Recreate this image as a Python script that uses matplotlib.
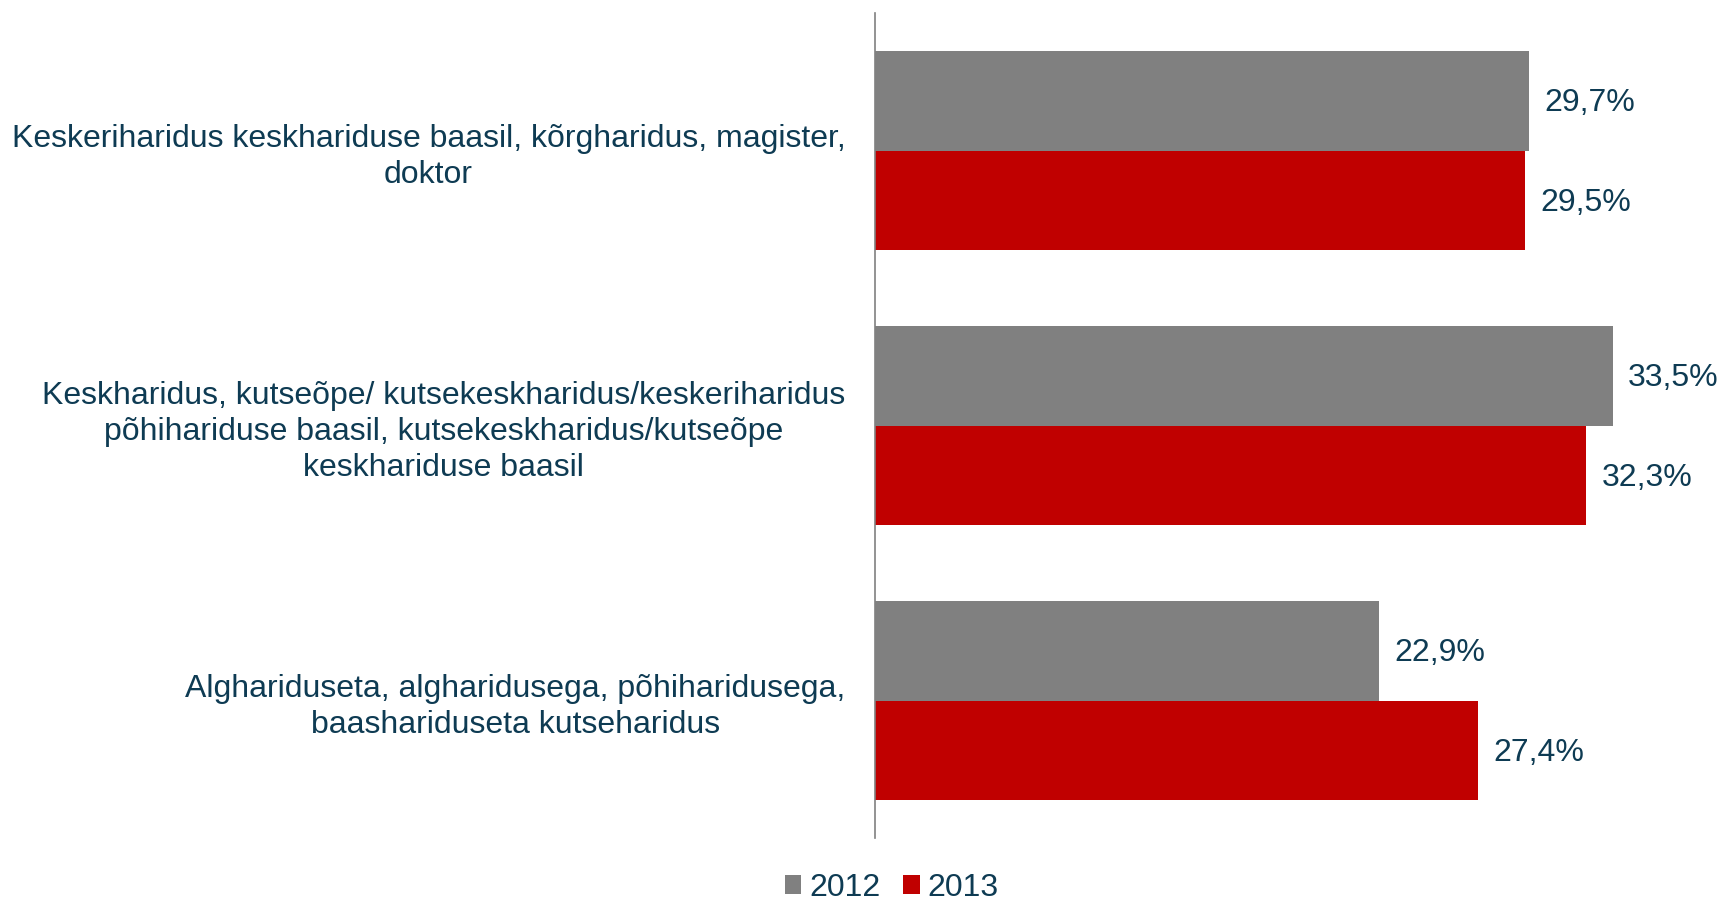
import matplotlib.pyplot as plt
import numpy as np

plt.rcParams['font.family'] = ['Liberation Sans', 'DejaVu Sans']

categories = [
    "Keskeriharidus keskhariduse baasil, kõrgharidus, magister,\ndoktor",
    "Keskharidus, kutseõpe/ kutsekeskharidus/keskeriharidus\npõhihariduse baasil, kutsekeskharidus/kutseõpe\nkeskhariduse baasil",
    "Alghariduseta, algharidusega, põhiharidusega,\nbaashariduseta kutseharidus",
]
years = ["2012", "2013"]
values_2012 = [29.7, 33.5, 22.9]
values_2013 = [29.5, 32.3, 27.4]

text_color = "#0E3B53"
colors = ["#808080", "#C00000"]

fig = plt.figure(figsize=(17.25, 9.06), dpi=100)
ax = fig.add_axes([0.507, 0.075, 0.493, 0.9106])

n = len(categories)
centers = np.arange(n)[::-1] + 0.5
h = 0.362

bars1 = ax.barh(centers + h / 2, values_2012, height=h, color=colors[0], label=years[0])
bars2 = ax.barh(centers - h / 2, values_2013, height=h, color=colors[1], label=years[1])

for bars, vals in [(bars1, values_2012), (bars2, values_2013)]:
    for b, v in zip(bars, vals):
        ax.text(v + 0.7, b.get_y() + b.get_height() / 2 - 0.008,
                f"{v:.1f}%".replace(".", ","),
                va="center", ha="left", fontsize=23, color=text_color)

ax.set_xlim(0, 38.6)
ax.set_ylim(0, n)
ax.set_xticks([])
ax.set_yticks(centers)
ax.set_yticklabels(categories, fontsize=23, color=text_color,
                   multialignment="center", linespacing=1.27)
ax.tick_params(axis="y", length=0, pad=21)
for s in ["top", "right", "bottom"]:
    ax.spines[s].set_visible(False)
ax.spines["left"].set_color("#808080")
ax.spines["left"].set_linewidth(1.2)

leg = fig.legend(loc="center", bbox_to_anchor=(0.517, 0.02), ncol=2, frameon=False,
                 fontsize=23, handlelength=0.52, handleheight=0.52, handletextpad=0.25,
                 columnspacing=0.7, borderaxespad=0, borderpad=0)
for t in leg.get_texts():
    t.set_color(text_color)

fig.savefig("out.png", dpi=100)
